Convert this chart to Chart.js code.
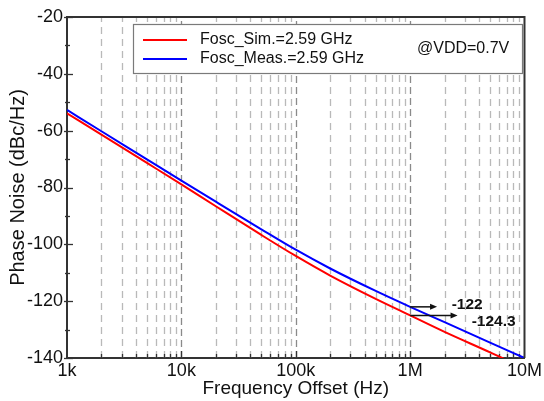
<!DOCTYPE html>
<html>
<head>
<meta charset="utf-8">
<script src="https://cdn.jsdelivr.net/npm/chart.js@4.4.1/dist/chart.umd.min.js"></script>
<style>
  html, body { margin: 0; padding: 0; background: #ffffff; }
  #wrap { width: 544px; height: 401px; }
</style>
</head>
<body>
<div id="wrap"><canvas id="c" width="544" height="401"></canvas></div>
<script>
// ---- data ----
const freqs = [1e3, 2e3, 5e3, 1e4, 2e4, 5e4, 1e5, 2e5, 5e5, 1e6, 2e6, 5e6, 1e7];
const simNoise  = [-53.9, -61.4, -71.35, -78.9, -86.6, -96.7, -104.1, -111.0, -119.2, -125.0, -130.8, -138.0, -143.6];
const measNoise = [-52.7, -60.2, -70.1, -77.6, -85.0, -94.7, -101.9, -108.5, -116.4, -122.0, -127.4, -134.6, -140.0];
const seriesNames = ['Fosc_Sim.=2.59 GHz', 'Fosc_Meas.=2.59 GHz'];
const seriesColors = ['#ff0000', '#0000ff'];
const xTickValues = [1e3, 1e4, 1e5, 1e6, 1e7];
const xTickLabels = ['1k', '10k', '100k', '1M', '10M'];
const yTickValues = [-140, -120, -100, -80, -60, -40, -20];
const conditionText = '@VDD=0.7V';
const annotationTexts = ['-122', '-124.3'];
const annotationStartX = [1e6, 1e6];
const annotationY = [-122, -125];
const annotationEndX = [1.72e6, 2.6e6];
const annotationLabelX = [2.31e6, 3.45e6];
const annotationLabelY = [-121.4, -127.2];

const FONT = '"Liberation Sans", Arial, Helvetica, sans-serif';

const decorPlugin = {
  id: 'decor',
  beforeDatasetsDraw(chart) {
    const { ctx, chartArea: a, scales: { x, y } } = chart;
    ctx.save();
    // vertical dashed grid lines
    for (let e = 3; e <= 6; e++) {
      for (let m = 1; m <= 9; m++) {
        const v = m * Math.pow(10, e);
        if (v <= 1e3) continue;
        const px = Math.round(x.getPixelForValue(v)) + 0.5;
        ctx.beginPath();
        if (m === 1) {
          ctx.strokeStyle = '#8a8a8a';
          ctx.setLineDash([7, 4]);
        } else {
          ctx.strokeStyle = '#b9b9b9';
          ctx.setLineDash([7, 5]);
        }
        ctx.lineWidth = 1.3;
        ctx.moveTo(px, a.bottom);
        ctx.lineTo(px, a.top);
        ctx.stroke();
      }
    }
    ctx.setLineDash([]);
    // inward x ticks
    ctx.strokeStyle = '#333';
    ctx.lineWidth = 1.3;
    for (let e = 3; e <= 6; e++) {
      for (let m = 1; m <= 9; m++) {
        const v = m * Math.pow(10, e);
        if (v <= 1e3) continue;
        const px = Math.round(x.getPixelForValue(v)) + 0.5;
        const len = m === 1 ? 7 : 4;
        ctx.beginPath();
        ctx.moveTo(px, a.bottom);
        ctx.lineTo(px, a.bottom - len);
        ctx.stroke();
      }
    }
    // y ticks
    for (let v = -140; v <= -20; v += 10) {
      const py = Math.round(y.getPixelForValue(v)) + 0.5;
      const major = (v % 20 === 0);
      ctx.beginPath();
      ctx.moveTo(a.left - (major ? 3 : 2), py);
      ctx.lineTo(a.left + (major ? 6 : 3), py);
      ctx.stroke();
    }
    // legend box
    const bx = a.left + 66, by = a.top + 7, bw = 389, bh = 49;
    ctx.fillStyle = '#ffffff';
    ctx.fillRect(bx, by, bw, bh);
    ctx.strokeStyle = '#7a7a7a';
    ctx.lineWidth = 1.2;
    ctx.strokeRect(bx + 0.5, by + 0.5, bw, bh);
    const rows = [by + 16, by + 35];
    ctx.font = '16px ' + FONT;
    ctx.textBaseline = 'middle';
    ctx.textAlign = 'left';
    for (let i = 0; i < seriesNames.length; i++) {
      ctx.strokeStyle = seriesColors[i];
      ctx.lineWidth = 2;
      ctx.beginPath();
      ctx.moveTo(bx + 10, rows[i]);
      ctx.lineTo(bx + 54, rows[i]);
      ctx.stroke();
      ctx.fillStyle = '#111';
      ctx.fillText(seriesNames[i], bx + 67, rows[i]);
    }
    ctx.fillText(conditionText, bx + 284, by + 25);
    ctx.restore();
  },
  afterDatasetsDraw(chart) {
    const { ctx, chartArea: a, scales: { x, y } } = chart;
    ctx.save();
    // frame top and right
    ctx.strokeStyle = '#333';
    ctx.lineWidth = 2;
    ctx.beginPath();
    ctx.moveTo(a.left, a.top);
    ctx.lineTo(a.right, a.top);
    ctx.lineTo(a.right, a.bottom);
    ctx.stroke();
    // annotations
    for (let i = 0; i < annotationTexts.length; i++) {
      const x0 = x.getPixelForValue(annotationStartX[i]);
      const x1 = x.getPixelForValue(annotationEndX[i]);
      const py = y.getPixelForValue(annotationY[i]);
      ctx.strokeStyle = '#111';
      ctx.fillStyle = '#111';
      ctx.lineWidth = 1.5;
      ctx.beginPath();
      ctx.moveTo(x0, py);
      ctx.lineTo(x1 - 5, py);
      ctx.stroke();
      ctx.beginPath();
      ctx.moveTo(x1, py);
      ctx.lineTo(x1 - 7, py - 3);
      ctx.lineTo(x1 - 7, py + 3);
      ctx.closePath();
      ctx.fill();
      ctx.font = 'bold 15.5px ' + FONT;
      ctx.textAlign = 'left';
      ctx.textBaseline = 'middle';
      ctx.fillText(annotationTexts[i], x.getPixelForValue(annotationLabelX[i]), y.getPixelForValue(annotationLabelY[i]));
    }
    ctx.restore();
  }
};

const makePoints = (arr) => freqs.map((f, i) => ({ x: f, y: arr[i] }));

new Chart(document.getElementById('c'), {
  type: 'line',
  data: {
    datasets: [
      { label: seriesNames[0], data: makePoints(simNoise), borderColor: seriesColors[0], borderWidth: 2, pointRadius: 0, cubicInterpolationMode: 'monotone' },
      { label: seriesNames[1], data: makePoints(measNoise), borderColor: seriesColors[1], borderWidth: 2, pointRadius: 0, cubicInterpolationMode: 'monotone' }
    ]
  },
  options: {
    responsive: false,
    animation: false,
    devicePixelRatio: 1,
    layout: { padding: { left: 0, top: 17, right: 15, bottom: 0 } },
    plugins: { legend: { display: false }, tooltip: { enabled: false } },
    scales: {
      x: {
        type: 'logarithmic',
        min: 1e3,
        max: 1e7,
        afterBuildTicks: (s) => { s.ticks = xTickValues.map(v => ({ value: v })); },
        afterFit: (s) => { s.height = 43; },
        ticks: {
          autoSkip: false,
          maxRotation: 0,
          padding: 2,
          color: '#111',
          font: { family: FONT, size: 18 },
          callback: (v) => { const i = xTickValues.indexOf(v); return i >= 0 ? xTickLabels[i] : ''; }
        },
        grid: { display: false, drawTicks: false },
        border: { display: true, color: '#333', width: 2 },
        title: { display: true, text: 'Frequency Offset (Hz)', color: '#111', font: { family: FONT, size: 19 }, padding: { top: 0, bottom: 1 } }
      },
      y: {
        min: -140,
        max: -20,
        afterBuildTicks: (s) => { s.ticks = yTickValues.map(v => ({ value: v })); },
        afterFit: (s) => { s.width = 67; },
        ticks: {
          padding: 4,
          color: '#111',
          font: { family: FONT, size: 18 },
          callback: (v) => String(v)
        },
        grid: { display: false, drawTicks: false },
        border: { display: true, color: '#333', width: 2 },
        title: { display: true, text: 'Phase Noise (dBc/Hz)', color: '#111', font: { family: FONT, size: 20 }, padding: { top: 6, bottom: 0 } }
      }
    }
  },
  plugins: [decorPlugin]
});
</script>
</body>
</html>
